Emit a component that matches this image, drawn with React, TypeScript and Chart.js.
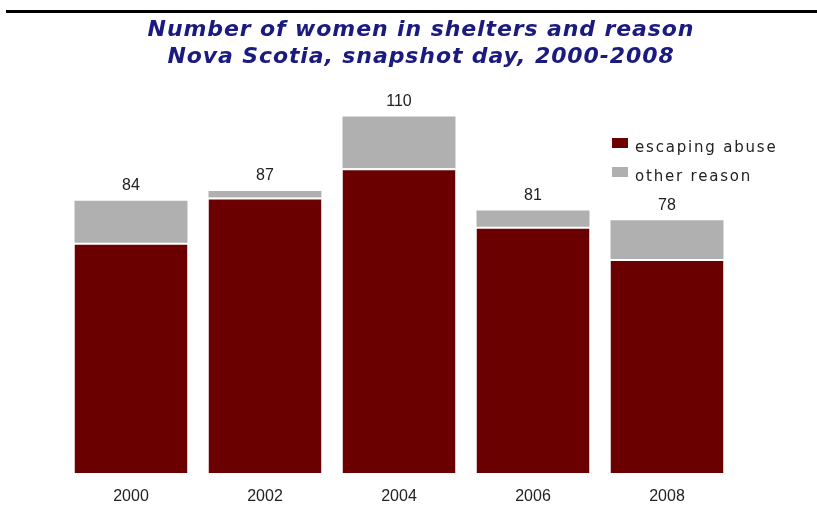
import React, { useEffect, useRef } from "react";
import { Chart, registerables } from "chart.js";

Chart.register(...registerables);

const years = ["2000", "2002", "2004", "2006", "2008"];
const escapingAbuse = [71, 85, 94, 76, 66];
const otherReason = [13, 2, 16, 5, 12];
const totals = [84, 87, 110, 81, 78];
const titleLines = [
  "Number of women in shelters and reason",
  "Nova Scotia, snapshot day, 2000-2008",
];
const legendLabels = ["escaping abuse", "other reason"];
const RED = "#6a0000";
const GRAY = "#b0b0b0";

const topLinePlugin = {
  id: "topLine",
  beforeDraw(chart: any) {
    const ctx = chart.ctx;
    ctx.save();
    ctx.fillStyle = "#000";
    ctx.fillRect(6, 10, chart.width - 6, 3);
    ctx.restore();
  },
};

const titlePlugin = {
  id: "customTitle",
  afterDraw(chart: any) {
    const ctx = chart.ctx;
    ctx.save();
    ctx.font = "italic bold 22px 'DejaVu Sans', Verdana, sans-serif";
    (ctx as any).letterSpacing = "0.9px";
    ctx.fillStyle = "#1a1a80";
    ctx.textAlign = "center";
    ctx.textBaseline = "alphabetic";
    titleLines.forEach((t, i) => {
      ctx.fillText(t, 421, 36 + i * 27);
    });
    ctx.restore();
  },
};

const labelPlugin = {
  id: "totals",
  afterDatasetsDraw(chart: any) {
    const ctx = chart.ctx;
    const meta = chart.getDatasetMeta(1);
    ctx.save();
    ctx.font = "16px 'Liberation Sans', Arial, sans-serif";
    ctx.fillStyle = "#222";
    ctx.textAlign = "center";
    ctx.textBaseline = "middle";
    meta.data.forEach((el: any, i: number) => {
      ctx.fillText(String(totals[i]), el.x, el.y - 15);
    });
    ctx.restore();
  },
};

const legendPlugin = {
  id: "customLegend",
  afterDraw(chart: any) {
    const ctx = chart.ctx;
    const colors = [RED, GRAY];
    ctx.save();
    ctx.font = "15px 'DejaVu Sans', Verdana, sans-serif";
    (ctx as any).letterSpacing = "1.8px";
    ctx.textBaseline = "alphabetic";
    ctx.textAlign = "left";
    legendLabels.forEach((lab, i) => {
      const y = 138 + i * 29;
      ctx.fillStyle = colors[i];
      ctx.fillRect(612, y, 16, 10);
      ctx.fillStyle = "#222";
      ctx.fillText(lab, 635, y + 14);
    });
    ctx.restore();
  },
};

export default function App() {
  const ref = useRef<HTMLCanvasElement>(null);
  useEffect(() => {
    if (!ref.current) return;
    const chart = new Chart(ref.current, {
      type: "bar",
      data: {
        labels: years,
        datasets: [
          {
            label: legendLabels[0],
            data: escapingAbuse,
            backgroundColor: RED,
            borderColor: "#ffffff",
            borderWidth: { top: 2, left: 0, right: 0, bottom: 0 },
            borderSkipped: false,
          },
          {
            label: legendLabels[1],
            data: otherReason,
            backgroundColor: GRAY,
            borderWidth: 0,
          },
        ],
      },
      options: {
        responsive: false,
        animation: false,
        layout: { padding: { left: 64, right: 83, top: 84, bottom: 0 } },
        datasets: { bar: { categoryPercentage: 1, barPercentage: 0.843 } },
        plugins: {
          legend: { display: false },
          tooltip: { enabled: false },
          title: { display: false },
        },
        scales: {
          x: {
            stacked: true,
            grid: { display: false, drawTicks: false },
            border: { display: false },
            afterFit: (scale: any) => {
              scale.height = 35;
            },
            ticks: {
              color: "#222",
              padding: 14,
              font: { family: "'Liberation Sans', Arial, sans-serif", size: 16 },
            },
          },
          y: {
            stacked: true,
            display: false,
            min: 0,
            max: 120,
          },
        },
      },
      plugins: [topLinePlugin, titlePlugin, labelPlugin, legendPlugin],
    });
    return () => chart.destroy();
  }, []);
  return (
    <div style={{ position: "absolute", left: 0, top: 0, width: 817, height: 508, background: "#fff" }}>
      <canvas ref={ref} width={817} height={508} />
    </div>
  );
}
